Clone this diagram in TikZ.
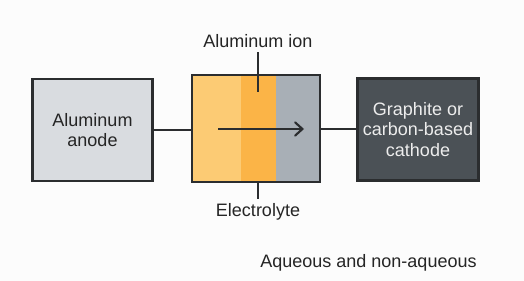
\documentclass[tikz,border=0pt]{standalone}
\usepackage{fontspec}
\setmainfont{Liberation Sans}
\usepackage{tikz}
\usetikzlibrary{arrows.meta,positioning,fit}
\definecolor{LDark}{HTML}{2B2D2F}
\definecolor{LAnode}{HTML}{D9DCE0}
\definecolor{LCathode}{HTML}{4B5156}
\definecolor{LOrangeA}{HTML}{FCCB74}
\definecolor{LOrangeB}{HTML}{FBB447}
\definecolor{LSteel}{HTML}{A8AFB6}
\definecolor{LText}{HTML}{252525}

\begin{document}
\begin{tikzpicture}[
  x=0.75pt,y=-0.75pt,
  every node/.style={font=\fontsize{13.5}{15.5}\selectfont,text=LText},
  electrode/.style={draw=LDark,line width=2.1pt,align=center,
    minimum width=90.5pt,minimum height=76.5pt},
  band/.style={inner sep=0pt,outer sep=0pt,minimum height=80.25pt},
  wire/.style={draw=LDark,line width=1.5pt},
  arr/.style={-{Straight Barb[length=5.5pt,width=10pt,line cap=round]},line width=1.6pt,draw=LDark}
]
  \useasboundingbox (0,0) rectangle (524,281);
  \fill[white!99!black] (0,0) rectangle (524,281);

  \node[electrode,fill=LAnode] (anode) at (92.5,130) {Aluminum\\anode};
  \node[band,fill=LOrangeA,minimum width=36.75pt] (b1) at (216.5,128.5) {};
  \node[band,fill=LOrangeB,minimum width=26.25pt,right=0pt of b1] (b2) {};
  \node[band,fill=LSteel,minimum width=33pt,right=0pt of b2] (b3) {};
  \node[draw=LDark,line width=2.1pt,fit=(b1)(b3),inner sep=0pt] (cell) {};
  \node[electrode,fill=LCathode,text=white!93!black,inner sep=0pt] (cathode) at (418,129.5)
    {Graphite or\\carbon-based\\cathode};

  \node (ionlbl) at (258,41) {Aluminum ion};
  \node (ellbl) at (258,212) {Electrolyte};
  \node (media) at (368.5,263) {Aqueous and non-aqueous};

  \coordinate (iontip) at (258,92);
  \coordinate (ionstart) at (218,129);
  \coordinate (ionend) at (304,129);

  \draw[wire] (anode.east) -- (anode.east -| cell.west);
  \draw[wire] (cell.east |- cathode.west) -- (cathode.west);
  \draw[wire] (ionlbl.south) -- (iontip);
  \draw[wire] (cell.south -| ellbl.north) -- (ellbl.north);
  \draw[arr] (ionstart) -- (ionend);
\end{tikzpicture}
\end{document}
